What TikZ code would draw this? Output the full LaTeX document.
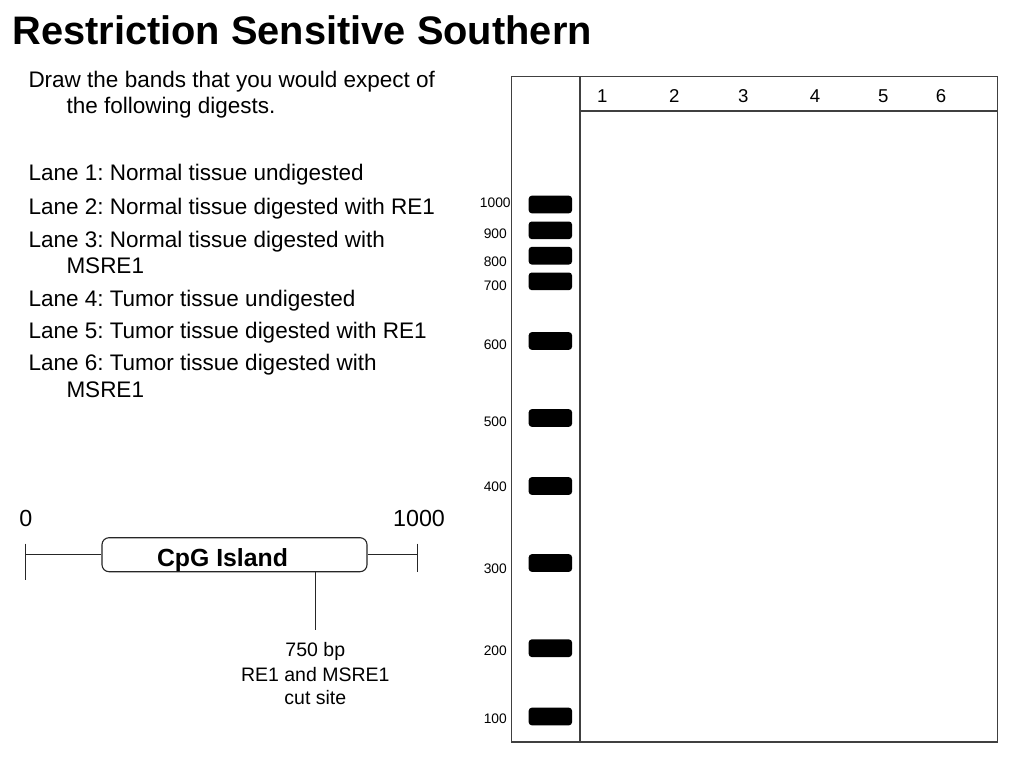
\documentclass[tikz,border=0pt]{standalone}
\usepackage{fontspec}
\setmainfont{Liberation Sans}
\frenchspacing
\begin{document}
\begin{tikzpicture}[x=1pt,y=-1pt,
  txt/.style={anchor=base west,inner sep=0pt,font=\fontsize{22.5}{27}\selectfont},
  mlabel/.style={anchor=base,inner sep=0pt,font=\fontsize{13.8}{16}\selectfont},
  lanenum/.style={anchor=base,inner sep=0pt,font=\fontsize{18.6}{22}\selectfont},
  band/.style={fill=black,rounded corners=3pt,minimum width=43.3pt,minimum height=17.6pt,inner sep=0pt},
  gelline/.style={draw=black!75,line width=1.3pt},
  cpgline/.style={draw=black!85,line width=1.1pt},
  small/.style={anchor=base,inner sep=0pt,font=\fontsize{19.5}{23}\selectfont}]
\useasboundingbox (0,0) rectangle (1024,768);
\fill[white] (0,0) rectangle (1024,768);
% title
\node[anchor=base west,inner sep=0pt,font=\fontsize{39.8}{44}\selectfont\bfseries] (title) at (12.2,45) {Restriction Sensitive Southern};
% instructions
\node[txt] (i1) at (28.3,87.5) {Draw the bands that you would expect of};
\node[txt] (i2) at (66.3,113.5) {the following digests.};
\node[txt] (l1) at (28.3,180.5) {Lane 1: Normal tissue undigested};
\node[txt] (l2) at (28.3,214) {Lane 2: Normal tissue digested with RE1};
\node[txt] (l3) at (28.3,247) {Lane 3: Normal tissue digested with};
\node[txt] (l3b) at (66.3,273) {MSRE1};
\node[txt] (l4) at (28.3,306) {Lane 4: Tumor tissue undigested};
\node[txt] (l5) at (28.3,338.5) {Lane 5: Tumor tissue digested with RE1};
\node[txt] (l6) at (28.3,370.5) {Lane 6: Tumor tissue digested with};
\node[txt] (l6b) at (66.3,397) {MSRE1};
% gel
\draw[gelline] (511.7,76.7) rectangle (997.7,742);
\draw[gelline] (580,76.7) -- (580,742);
\draw[gelline] (580,111) -- (997.7,111);
\foreach \n/\x in {1/602.3,2/674.3,3/743.3,4/815,5/883.3,6/941}
  \node[lanenum] (lane\n) at (\x,102.3) {\n};
\foreach \s/\yb/\yl in {1000/204.5/207.2,900/230.3/238.9,800/255.7/266.2,700/281.3/290.2,600/341/349.9,500/418/426.9,400/486/491.6,300/563/573.9,200/648.2/655.9,100/716.5/723.9}{
  \node[band] (b\s) at (550.35,\yb) {};
  \node[mlabel] (m\s) at (495.3,\yl) {\s};
}
% CpG island map
\node[cpgline,draw,rounded corners=7pt,minimum width=265pt,minimum height=34pt,inner sep=0pt] (cpg) at (234.5,554.7) {};
\node[anchor=base,inner sep=0pt,font=\fontsize{24.8}{28}\selectfont\bfseries] (cpgt) at (222.5,566.5) {CpG Island};
\coordinate (start) at (25.7,554.7);
\coordinate (stop) at (417.7,554.7);
\coordinate (st1) at (25.7,543.5);
\coordinate (st2) at (25.7,580);
\coordinate (sp1) at (417.7,543.5);
\coordinate (sp2) at (417.7,571.5);
\coordinate (cut) at (315.3,630);
\draw[cpgline] (start) -- (cpg.west);
\draw[cpgline] (cpg.east) -- (stop);
\draw[cpgline] (st1) -- (st2);
\draw[cpgline] (sp1) -- (sp2);
\draw[cpgline] (cut |- cpg.south) -- (cut);
\node[anchor=base,inner sep=0pt,font=\fontsize{23.3}{27}\selectfont] (zero) at (25.8,526.7) {0};
\node[anchor=base,inner sep=0pt,font=\fontsize{23.3}{27}\selectfont] (thou) at (419,526.7) {1000};
\node[small] (c1) at (315.3,656.7) {750 bp};
\node[small] (c2) at (315.3,681.7) {RE1 and MSRE1};
\node[small] (c3) at (315.3,704.5) {cut site};
\end{tikzpicture}
\end{document}
